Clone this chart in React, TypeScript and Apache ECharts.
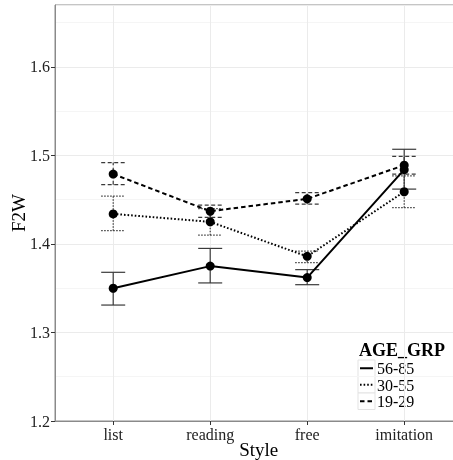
import React, { useEffect, useRef } from "react";
import * as echarts from "echarts";

const categories = ["list", "reading", "free", "imitation"];
const groups = ["56-85", "30-55", "19-29"];

const mean5685 = [1.35, 1.375, 1.362, 1.484];
const low5685 = [1.331, 1.356, 1.354, 1.462];
const high5685 = [1.368, 1.395, 1.371, 1.507];

const mean3055 = [1.434, 1.425, 1.386, 1.459];
const low3055 = [1.415, 1.41, 1.379, 1.441];
const high3055 = [1.454, 1.44, 1.392, 1.477];

const mean1929 = [1.479, 1.437, 1.451, 1.489];
const low1929 = [1.467, 1.43, 1.445, 1.479];
const high1929 = [1.492, 1.444, 1.458, 1.499];

const yTicks = [1.2, 1.3, 1.4, 1.5, 1.6];

const FONT = "Liberation Serif";
const lineDashes: (number[] | null)[] = [null, [1.6, 2], [4.5, 3]];
const barDashes: (number[] | null)[] = [null, [1.5, 1.5], [4, 2.5]];

const means = [mean5685, mean3055, mean1929];
const lows = [low5685, low3055, low1929];
const highs = [high5685, high3055, high1929];

export default function App() {
  const ref = useRef<HTMLDivElement>(null);
  useEffect(() => {
    if (!ref.current) return;
    const chart = echarts.init(ref.current, null, { renderer: "svg" });

    const errSeries = groups.map((g, gi) => ({
      type: "custom",
      name: g + " err",
      xAxisIndex: 0,
      yAxisIndex: 0,
      encode: { x: 0, y: [1, 2] },
      data: categories.map((_, i) => [i + 1, lows[gi][i], highs[gi][i]]),
      z: 3,
      renderItem: (params: any, api: any) => {
        const x = api.value(0);
        const pLo = api.coord([x, api.value(1)]);
        const pHi = api.coord([x, api.value(2)]);
        const half = 12;
        const style: any = { stroke: "#3a3a3a", lineWidth: 1.2, fill: null };
        if (barDashes[gi]) style.lineDash = barDashes[gi];
        return {
          type: "group",
          children: [
            { type: "line", shape: { x1: pLo[0], y1: pLo[1], x2: pHi[0], y2: pHi[1] }, style },
            { type: "line", shape: { x1: pLo[0] - half, y1: pLo[1], x2: pLo[0] + half, y2: pLo[1] }, style },
            { type: "line", shape: { x1: pHi[0] - half, y1: pHi[1], x2: pHi[0] + half, y2: pHi[1] }, style },
          ],
        };
      },
    }));

    const lineSeries = groups.map((g, gi) => ({
      type: "line",
      name: g,
      xAxisIndex: 0,
      yAxisIndex: 0,
      data: categories.map((_, i) => [i + 1, means[gi][i]]),
      symbol: "circle",
      symbolSize: 9,
      itemStyle: { color: "#000" },
      lineStyle: { color: "#000", width: 2, type: lineDashes[gi] ? lineDashes[gi] : "solid" },
      z: 5,
    }));

    // legend drawn from groups
    const lx = 358;
    const rowTop = [360, 376.5, 393];
    const legendChildren: any[] = [
      { type: "rect", shape: { x: 356, y: 338, width: 110, height: 74 }, style: { fill: "#fff" } },
      {
        type: "text",
        x: lx + 1,
        y: 350,
        style: { text: "AGE_GRP", font: `bold 18px "${FONT}"`, fill: "#000", verticalAlign: "middle", align: "left" },
      },
    ];
    groups.forEach((g, gi) => {
      const ty = rowTop[gi];
      legendChildren.push({
        type: "rect",
        shape: { x: lx, y: ty, width: 17, height: 16.5 },
        style: { fill: "#fff", stroke: "#e3e3e3", lineWidth: 1 },
      });
      const ls: any = { stroke: "#000", lineWidth: 2 };
      if (lineDashes[gi]) ls.lineDash = lineDashes[gi];
      legendChildren.push({
        type: "line",
        shape: { x1: lx + 2, y1: ty + 8.25, x2: lx + 15, y2: ty + 8.25 },
        style: ls,
      });
      legendChildren.push({
        type: "text",
        x: lx + 19,
        y: ty + 8.5,
        style: { text: g, font: `16px "${FONT}"`, fill: "#000", verticalAlign: "middle", align: "left" },
      });
    });

    chart.setOption({
      animation: false,
      grid: {
        left: 55,
        top: 5,
        right: -9.4,
        bottom: 39,
        containLabel: false,
        outerBoundsMode: "none",
        show: true,
        borderColor: "#8a8a8a",
        borderWidth: 1,
        backgroundColor: "#fff",
      },
      xAxis: {
        type: "value",
        min: 0.4,
        max: 4.6,
        name: "Style",
        nameLocation: "middle",
        nameMoveOverlap: false,
        nameGap: 19,
        nameTextStyle: { fontFamily: FONT, fontSize: 19, color: "#000" },
        axisLine: { show: true, lineStyle: { color: "#8a8a8a", width: 1 } },
        axisTick: { show: true, length: 4, customValues: [1, 2, 3, 4], lineStyle: { color: "#333" } },
        axisLabel: {
          customValues: [1, 2, 3, 4],
          formatter: (v: number) => categories[Math.round(v) - 1] || "",
          fontFamily: FONT,
          fontSize: 16,
          color: "#222",
          margin: 5,
        },
        splitLine: { show: true, lineStyle: { color: "#ebebeb", width: 1 } },
      },
      yAxis: [
        {
          type: "value",
          min: 1.2,
          max: 1.67,
          interval: 0.05,
          name: "F2W",
          nameLocation: "middle",
          nameMoveOverlap: false,
          nameGap: 27,
          nameTextStyle: { fontFamily: FONT, fontSize: 19, color: "#000" },
          axisLine: { show: true, lineStyle: { color: "#8a8a8a", width: 1 } },
          axisTick: { show: false },
          axisLabel: {
            fontFamily: FONT,
            fontSize: 16,
            color: "#222",
            margin: 5,
            showMaxLabel: false,
            formatter: (v: number) => {
              const hit = yTicks.find((t) => Math.abs(t - v) < 1e-6);
              return hit !== undefined ? hit.toFixed(1) : "";
            },
          },
          splitLine: { show: true, lineStyle: { color: ["#ebebeb", "#f5f5f5"], width: 1 } },
        },
        {
          type: "value",
          min: 1.2,
          max: 1.67,
          interval: 0.1,
          position: "left",
          axisLine: { show: false },
          axisTick: { show: true, length: 4, customValues: yTicks, lineStyle: { color: "#333" } },
          axisLabel: { show: false },
          splitLine: { show: false },
        },
      ],
      series: [...errSeries, ...lineSeries],
      graphic: [{ type: "group", children: legendChildren, z: 100 }],
    });
    return () => chart.dispose();
  }, []);
  return <div ref={ref} style={{ position: "fixed", left: 0, top: 0, width: 453, height: 460 }} />;
}
